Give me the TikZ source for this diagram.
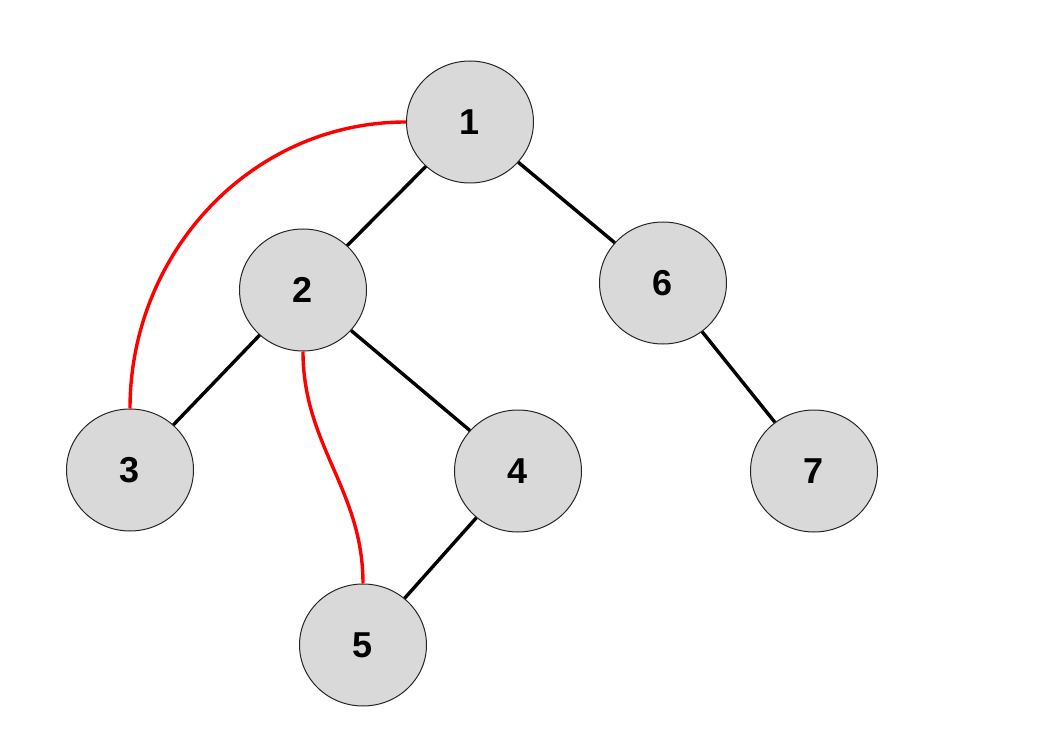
\documentclass[tikz,border=0pt]{standalone}
\usepackage{fontspec}
\setmainfont{Liberation Sans}
\usetikzlibrary{shapes.geometric}
\begin{document}
\begin{tikzpicture}[x=1pt,y=-1pt,
  vtx/.style={ellipse,draw=black!85,line width=1pt,fill=black!15,minimum width=127pt,minimum height=122pt,inner sep=0pt,font=\fontsize{36}{40}\selectfont\bfseries},
  tree/.style={line width=3.4pt,black},
  back/.style={line width=3.4pt,red}]
\useasboundingbox (0,0) rectangle (1045,746);
\node[vtx] (n1) at (470,122) {1};
\node[vtx] (n2) at (303,290) {2};
\node[vtx] (n6) at (663,283) {6};
\node[vtx] (n3) at (130,470) {3};
\node[vtx] (n4) at (518,471) {4};
\node[vtx] (n7) at (814,471) {7};
\node[vtx] (n5) at (363,645) {5};
\draw[tree] (n1) -- (n2);
\draw[tree] (n1) -- (n6);
\draw[tree] (n2) -- (n3);
\draw[tree] (n2) -- (n4);
\draw[tree] (n6) -- (n7);
\draw[tree] (n4) -- (n5);
\draw[back] (n1.west) to[out=180,in=90] (n3.north);
\draw[back] (n2.south) to[out=-90,in=90] (n5.north);
\end{tikzpicture}
\end{document}
